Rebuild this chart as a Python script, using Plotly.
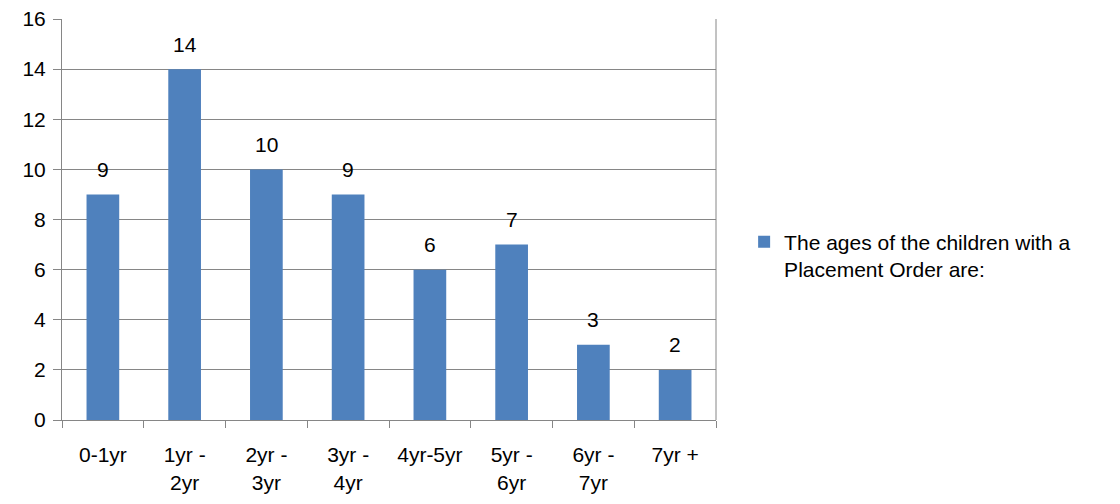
import plotly.graph_objects as go

categories = ["0-1yr", "1yr -<br>2yr", "2yr -<br>3yr", "3yr -<br>4yr", "4yr-5yr", "5yr -<br>6yr", "6yr -<br>7yr", "7yr +"]
values = [9, 14, 10, 9, 6, 7, 3, 2]
series_name = "The ages of the children with a<br>Placement Order are:"
y_ticks = [0, 2, 4, 6, 8, 10, 12, 14, 16]

FONT = "Liberation Sans"
FS = 21
BAR = "#4F81BD"
AX = "#868686"

fig = go.Figure()
fig.add_trace(go.Bar(
    x=categories, y=values, name=series_name,
    marker=dict(color=BAR, line=dict(width=0)),
))
for c, v in zip(categories, values):
    fig.add_annotation(x=c, y=v, text=str(v), showarrow=False, yanchor="middle",
                       yshift=25, font=dict(family=FONT, size=FS, color="#000000"))

fig.update_layout(
    width=1120, height=504,
    margin=dict(l=54, r=412, t=11, b=92, autoexpand=False),
    paper_bgcolor="white", plot_bgcolor="white",
    bargap=0.6,
    showlegend=True,
    legend=dict(x=1.043, y=0.41, xanchor="left", yanchor="middle",
                valign="top", font=dict(family=FONT, size=FS, color="#000000"),
                itemwidth=30),
    font=dict(family=FONT, size=FS, color="#000000"),
    xaxis=dict(type="category", showline=True, linecolor=AX, linewidth=1,
               ticks="outside", tickson="boundaries", ticklen=7, tickcolor=AX,
               showgrid=False, automargin=False, ticklabelstandoff=16,
               tickfont=dict(family=FONT, size=FS, color="#000000"),
               range=[-0.5, 7.5]),
    yaxis=dict(range=[0, 16], tickvals=y_ticks, showline=True, linecolor=AX,
               linewidth=1, ticks="outside", ticklen=8, tickcolor=AX,
               showgrid=True, gridcolor=AX, gridwidth=1, zeroline=False,
               automargin=False, ticklabelstandoff=3, ticklabeloverflow="allow",
               tickfont=dict(family=FONT, size=FS, color="#000000")),
)
fig.add_shape(type="line", xref="paper", yref="paper", x0=1, x1=1, y0=0, y1=1,
              line=dict(color=AX, width=1))

fig.write_html("out.html")
